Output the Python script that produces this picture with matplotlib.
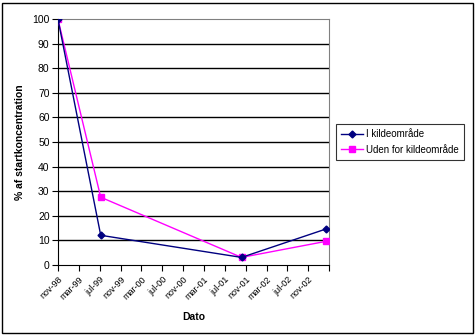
import matplotlib.pyplot as plt
from matplotlib.patches import Rectangle

plt.rcParams['font.family'] = ['Liberation Sans', 'DejaVu Sans']

# months counted from nov-98
months = [0, 8.2, 35.2, 51.3]
i_kilde = [100, 12, 3, 14.5]
uden_kilde = [100, 27.5, 3, 9.5]
tick_labels = ['nov-98', 'mar-99', 'jul-99', 'nov-99', 'mar-00', 'jul-00', 'nov-00',
               'mar-01', 'jul-01', 'nov-01', 'mar-02', 'jul-02', 'nov-02', '']

fig = plt.figure(figsize=(4.75, 3.36), dpi=100)
ax = fig.add_axes([0.122, 0.212, 0.571, 0.731])

ax.plot(months, i_kilde, color='#000080', marker='D', markersize=3.5, lw=1,
        label='I kildeområde', zorder=4)
ax.plot(months, uden_kilde, color='#FF00FF', marker='s', markersize=4, lw=1,
        label='Uden for kildeområde', zorder=3)

ax.set_xlim(0, 52)
ax.set_ylim(0, 100)
ax.set_xticks(range(0, 53, 4))
ax.set_xticklabels(tick_labels, rotation=45, ha='right', rotation_mode='anchor', fontsize=6.5)
ax.set_yticks(range(0, 101, 10))
ax.tick_params(axis='y', labelsize=7.5, length=4, width=0.8, pad=2)
ax.tick_params(axis='x', length=4, width=0.8, pad=3)

for y in range(10, 100, 10):
    ax.axhline(y, color='black', lw=1, zorder=1)

for s in ['top', 'right']:
    ax.spines[s].set_color('#808080')
for s in ['left', 'bottom']:
    ax.spines[s].set_color('black')

ax.set_ylabel('% af startkoncentration', fontsize=7.5, fontweight='bold', labelpad=5)
ax.set_xlabel('Dato', fontsize=7.5, fontweight='bold', labelpad=8)

leg = ax.legend(loc='center left', bbox_to_anchor=(1.025, 0.50), fontsize=7,
                frameon=True, fancybox=False, edgecolor='black', borderpad=0.55,
                handlelength=2.2, handletextpad=0.3, labelspacing=0.55, borderaxespad=0)
leg.get_frame().set_linewidth(0.8)

fig.patches.append(Rectangle((0.005, 0.01), 0.99, 0.98, transform=fig.transFigure,
                             fill=False, edgecolor='black', lw=1))

fig.savefig('out.png', dpi=100)
